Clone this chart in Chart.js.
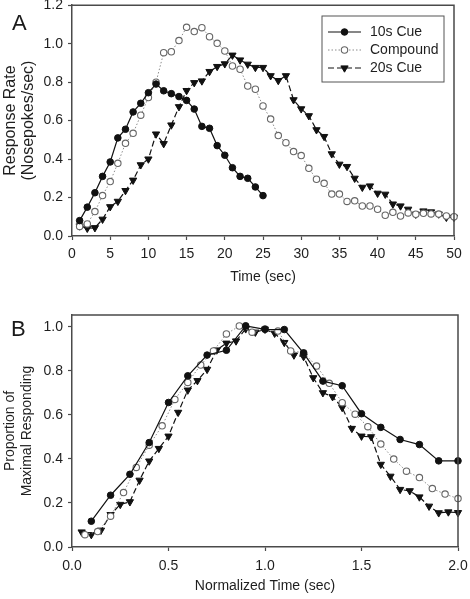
<!DOCTYPE html>
<html>
<head>
<meta charset="utf-8">
<script src="https://cdn.jsdelivr.net/npm/chart.js@4.4.1/dist/chart.umd.min.js"></script>
<style>
  html, body { margin: 0; padding: 0; background: #fff; }
  #wrap { position: relative; width: 470px; height: 599px; overflow: hidden; }
  canvas { position: absolute; left: 0; }
  .panel { position: absolute; font-family: "Liberation Sans", Arial, sans-serif; font-size: 22px; color: #1a1a1a; }
</style>
</head>
<body>
<div id="wrap">
  <canvas id="cA" width="470" height="300" style="top:0"></canvas>
  <canvas id="cB" width="470" height="299" style="top:300px"></canvas>
  <div class="panel" style="left:12px; top:10px;">A</div>
  <div class="panel" style="left:11px; top:316px;">B</div>
</div>
<script>
// ---------- Panel A data ----------
const seriesNames = ['10s Cue', 'Compound', '20s Cue'];
const timeA = [1,2,3,4,5,6,7,8,9,10,11,12,13,14,15,16,17,18,19,20,21,22,23,24,25,
               26,27,28,29,30,31,32,33,34,35,36,37,38,39,40,41,42,43,44,45,46,47,48,49,50];
const cue10A = [0.08,0.15,0.225,0.31,0.385,0.51,0.555,0.645,0.69,0.745,0.79,0.755,0.74,0.725,0.705,
                0.66,0.57,0.56,0.47,0.42,0.355,0.31,0.30,0.255,0.21];
const compoundA = [0.05,0.063,0.127,0.21,0.283,0.378,0.482,0.534,0.628,0.72,0.80,0.953,0.958,1.016,1.085,
                   1.063,1.083,1.036,1.002,0.962,0.884,0.867,0.78,0.763,0.676,0.608,0.522,0.485,0.439,0.418,
                   0.352,0.295,0.274,0.218,0.218,0.18,0.183,0.156,0.156,0.139,0.108,0.123,0.104,0.12,0.113,
                   0.118,0.115,0.114,0.104,0.10];
const cue20A = [0.052,0.04,0.043,0.087,0.152,0.18,0.236,0.29,0.37,0.40,0.53,0.48,0.577,0.672,0.756,
                0.797,0.806,0.855,0.881,0.895,0.94,0.915,0.893,0.876,0.876,0.833,0.808,0.833,0.708,0.661,
                0.625,0.552,0.517,0.427,0.373,0.361,0.30,0.253,0.26,0.222,0.217,0.166,0.156,0.139,0.113,
                0.13,0.125,0.114,0.097,0.097];
const xTicksA = [0,5,10,15,20,25,30,35,40,45,50];
const yTicksA = [0,0.2,0.4,0.6,0.8,1.0,1.2];

// ---------- Panel B data ----------
const normX10 = [0.1,0.2,0.3,0.4,0.5,0.6,0.7,0.8,0.9,1.0,1.1,1.2,1.3,1.4,1.5,1.6,1.7,1.8,1.9,2.0];
const cue10B = [0.117,0.235,0.33,0.474,0.656,0.777,0.871,0.893,1.004,0.988,0.987,0.88,0.753,0.732,0.605,
                0.543,0.488,0.465,0.391,0.391];
const normXCompound = [0.067,0.133,0.2,0.267,0.333,0.4,0.467,0.533,0.6,0.667,0.733,0.8,0.867,0.933,1.0,
                       1.067,1.133,1.2,1.267,1.333,1.4,1.467,1.533,1.6,1.667,1.733,1.8,1.867,1.933,2.0];
const compoundB = [0.056,0.07,0.14,0.247,0.361,0.462,0.55,0.67,0.747,0.826,0.89,0.967,1.003,0.975,0.99,
                   0.98,0.89,0.882,0.821,0.743,0.655,0.603,0.546,0.467,0.399,0.344,0.315,0.265,0.24,0.22];
const normX20 = [0.05,0.1,0.15,0.2,0.25,0.3,0.35,0.4,0.45,0.5,0.55,0.6,0.65,0.7,0.75,0.8,0.85,0.9,0.95,1.0,
                 1.05,1.1,1.15,1.2,1.25,1.3,1.35,1.4,1.45,1.5,1.55,1.6,1.65,1.7,1.75,1.8,1.85,1.9,1.95,2.0];
const cue20B = [0.068,0.056,0.076,0.147,0.193,0.205,0.303,0.39,0.447,0.503,0.611,0.712,0.755,0.806,0.894,
                0.925,0.935,0.99,0.975,0.988,0.97,0.928,0.871,0.864,0.768,0.70,0.682,0.633,0.538,0.503,
                0.50,0.375,0.321,0.261,0.255,0.227,0.185,0.155,0.159,0.156];
const xTicksB = [0,0.5,1.0,1.5,2.0];
const yTicksB = [0,0.2,0.4,0.6,0.8,1.0];

// ---------- styling ----------
const FONT = '"Liberation Sans", Arial, sans-serif';
const AX = '#4a4a4a';
const TXT = '#1e1e1e';
const styles = [
  { borderColor: '#111', borderWidth: 1.2, borderDash: [], pointStyle: 'circle', pointRadius: 3.3,
    pointBackgroundColor: '#111', pointBorderColor: '#111', pointBorderWidth: 1, pointRotation: 0 },
  { borderColor: '#8c8c8c', borderWidth: 1, borderDash: [1.5, 2], pointStyle: 'circle', pointRadius: 3.2,
    pointBackgroundColor: '#fff', pointBorderColor: '#666', pointBorderWidth: 1.1, pointRotation: 0 },
  { borderColor: '#111', borderWidth: 1.2, borderDash: [6, 3], pointStyle: 'triangle', pointRadius: 4.2,
    pointBackgroundColor: '#111', pointBorderColor: '#111', pointBorderWidth: 1, pointRotation: 180 }
];

function pts(xs, ys) { return ys.map((y, i) => ({ x: xs[i], y: y })); }

function makeDatasets(sets) {
  return sets.map((d, i) => Object.assign({
    label: seriesNames[i], data: d, showLine: true, fill: false, clip: false,
    pointHoverRadius: styles[i].pointRadius, tension: 0
  }, styles[i]));
}

const framePlugin = {
  id: 'frame',
  afterDraw(chart) {
    const { ctx, chartArea: a } = chart;
    ctx.save();
    ctx.strokeStyle = AX;
    ctx.lineWidth = 1.5;
    ctx.beginPath();
    ctx.moveTo(a.left, a.top);
    ctx.lineTo(a.right, a.top);
    ctx.lineTo(a.right, a.bottom);
    ctx.stroke();
    ctx.restore();
  }
};

const legendPlugin = {
  id: 'boxLegend',
  afterDraw(chart, args, opts) {
    if (!opts || !opts.show) return;
    const { ctx } = chart;
    ctx.save();
    ctx.strokeStyle = '#555';
    ctx.lineWidth = 1;
    ctx.strokeRect(opts.x, opts.y, opts.w, opts.h);
    ctx.font = '14px ' + FONT;
    ctx.textBaseline = 'middle';
    ctx.fillStyle = TXT;
    chart.data.datasets.forEach((ds, i) => {
      const yy = opts.y + opts.rowStart + i * opts.rowGap;
      ctx.save();
      ctx.strokeStyle = ds.borderColor;
      ctx.lineWidth = ds.borderWidth;
      ctx.setLineDash(ds.borderDash || []);
      ctx.beginPath();
      ctx.moveTo(opts.x + opts.lineX0, yy);
      ctx.lineTo(opts.x + opts.lineX1, yy);
      ctx.stroke();
      ctx.setLineDash([]);
      ctx.fillStyle = ds.pointBackgroundColor;
      ctx.strokeStyle = ds.pointBorderColor;
      ctx.lineWidth = ds.pointBorderWidth;
      Chart.helpers.drawPoint(ctx, {
        pointStyle: ds.pointStyle, rotation: ds.pointRotation,
        radius: ds.pointRadius, borderWidth: ds.pointBorderWidth
      }, opts.x + (opts.lineX0 + opts.lineX1) / 2, yy);
      ctx.restore();
      ctx.fillStyle = TXT;
      ctx.fillText(ds.label, opts.x + opts.textX, yy + 0.5);
    });
    ctx.restore();
  }
};

function axis(cfg) {
  return {
    type: 'linear',
    position: cfg.position,
    min: cfg.min, max: cfg.max,
    grid: { drawOnChartArea: false, drawTicks: true, tickLength: 4, color: AX, tickWidth: 1.2 },
    border: { display: true, color: AX, width: 1.5 },
    ticks: {
      color: TXT, font: { family: FONT, size: 14 }, padding: cfg.tickPad,
      autoSkip: false, maxRotation: 0, minRotation: 0,
      callback: cfg.fmt
    },
    title: {
      display: true, text: cfg.title, color: TXT,
      font: { family: FONT, size: cfg.titleSize || 14, lineHeight: cfg.titleLH || 1.2 },
      padding: cfg.titlePad
    },
    afterBuildTicks(scale) { scale.ticks = cfg.ticks.map(v => ({ value: v })); },
    afterFit(scale) {
      if (cfg.position === 'left') { scale.width = cfg.size; }
      else { scale.height = cfg.size; }
      scale.paddingTop = 0; scale.paddingBottom = 0;
      scale.paddingLeft = 0; scale.paddingRight = 0;
    }
  };
}

function buildChart(id, datasets, xCfg, yCfg, padding, legendOpts) {
  return new Chart(document.getElementById(id), {
    type: 'scatter',
    data: { datasets: datasets },
    options: {
      responsive: false, animation: false, devicePixelRatio: 1,
      layout: { padding: padding },
      plugins: { legend: { display: false }, tooltip: { enabled: false }, boxLegend: legendOpts },
      scales: { x: axis(xCfg), y: axis(yCfg) }
    },
    plugins: [framePlugin, legendPlugin]
  });
}

buildChart('cA',
  makeDatasets([pts(timeA, cue10A), pts(timeA, compoundA), pts(timeA, cue20A)]),
  { position: 'bottom', min: 0, max: 50, ticks: xTicksA, fmt: v => String(v), title: 'Time (sec)',
    size: 64, tickPad: 6, titlePad: { top: 0, bottom: 14 } },
  { position: 'left', min: 0, max: 1.2, ticks: yTicksA, fmt: v => v.toFixed(1),
    title: ['Response Rate', '(Nosepokes/sec)'], titleSize: 16, titleLH: 1.1,
    size: 72, tickPad: 5, titlePad: { top: 2, bottom: 0 } },
  { top: 5, right: 16, left: 0, bottom: 0 },
  { show: true, x: 322, y: 16, w: 122, h: 66, rowStart: 16, rowGap: 18, lineX0: 6, lineX1: 39, textX: 48 }
);

buildChart('cB',
  makeDatasets([pts(normX10, cue10B), pts(normXCompound, compoundB), pts(normX20, cue20B)]),
  { position: 'bottom', min: 0, max: 2.0, ticks: xTicksB, fmt: v => v.toFixed(1), title: 'Normalized Time (sec)',
    size: 52, tickPad: 7, titlePad: { top: 0, bottom: 4 } },
  { position: 'left', min: 0, max: 1.053, ticks: yTicksB, fmt: v => v.toFixed(1),
    title: ['Proportion of', 'Maximal Responding'], size: 72, tickPad: 5, titlePad: { top: 2, bottom: 0 } },
  { top: 15, right: 12, left: 0, bottom: 0 },
  { show: false }
);
</script>
</body>
</html>
